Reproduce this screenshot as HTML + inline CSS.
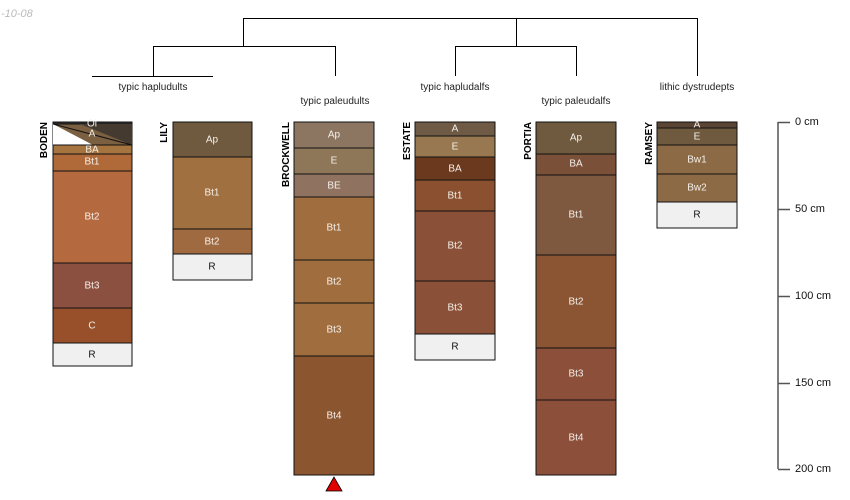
<!DOCTYPE html>
<html><head><meta charset="utf-8"><style>
html,body{margin:0;padding:0;background:#fff;}
svg{display:block;font-family:"Liberation Sans",sans-serif;}
.h{fill:#f4efe8;font-size:10px;text-anchor:middle;dominant-baseline:central;}
.k{fill:#111;font-size:10px;text-anchor:middle;dominant-baseline:central;}
.n{font-size:10px;font-weight:bold;fill:#000;}
.t{font-size:10px;fill:#222;text-anchor:middle;}
rect.l{stroke:#111;stroke-width:1;}
</style></head><body>
<svg width="850" height="500" viewBox="0 0 850 500" xmlns="http://www.w3.org/2000/svg">
<text x="1" y="17" font-size="11" font-style="italic" fill="#bbb">-10-08</text>
<g stroke="#000" stroke-width="1" fill="none">
<path d="M243.5 46V18.5H697.5V76"/>
<path d="M153.5 76V46.5H335.5V76"/>
<path d="M92 76.5H213"/>
<path d="M516.5 18.5V46.5"/>
<path d="M455.5 76V46.5H576.5V76"/>
</g>
<text class="t" x="153" y="90">typic hapludults</text>
<text class="t" x="335" y="104">typic paleudults</text>
<text class="t" x="455" y="90">typic hapludalfs</text>
<text class="t" x="576" y="104">typic paleudalfs</text>
<text class="t" x="697" y="90">lithic dystrudepts</text>

<g>
<rect class="l" x="53" y="122" width="79" height="2" fill="#333"/>
<rect class="l" x="53" y="124" width="79" height="21" fill="#7a6040"/>
<polygon points="53,124 53,145 93,145" fill="#fff"/>
<polygon points="80,124 132,124 132,145" fill="#443a30"/>
<line x1="53" y1="124" x2="132" y2="145" stroke="#111"/>
<rect class="l" x="53" y="145" width="79" height="9" fill="#a5743f"/>
<rect class="l" x="53" y="154" width="79" height="17" fill="#b06a3a"/>
<rect class="l" x="53" y="171" width="79" height="92" fill="#b5693f"/>
<rect class="l" x="53" y="263" width="79" height="45" fill="#8c5040"/>
<rect class="l" x="53" y="308" width="79" height="35" fill="#98502a"/>
<rect class="l" x="53" y="343" width="79" height="23" fill="#f0f0f0"/>
<text class="h" x="92" y="124">Oi</text><text class="h" x="92" y="134">A</text>
<text class="h" x="92" y="150">BA</text><text class="h" x="92" y="162">Bt1</text>
<text class="h" x="92" y="217">Bt2</text><text class="h" x="92" y="286">Bt3</text>
<text class="h" x="92" y="326">C</text><text class="k" x="92" y="355">R</text>
<text class="n" transform="translate(47 122) rotate(-90)" text-anchor="end">BODEN</text>
</g>
<g>
<rect class="l" x="173" y="122" width="79" height="35" fill="#6f5a40"/>
<rect class="l" x="173" y="157" width="79" height="72" fill="#a07040"/>
<rect class="l" x="173" y="229" width="79" height="25" fill="#a06a40"/>
<rect class="l" x="173" y="254" width="79" height="26" fill="#f0f0f0"/>
<text class="h" x="212" y="140">Ap</text><text class="h" x="212" y="193">Bt1</text>
<text class="h" x="212" y="242">Bt2</text><text class="k" x="212" y="267">R</text>
<text class="n" transform="translate(167 122) rotate(-90)" text-anchor="end">LILY</text>
</g>
<g>
<rect class="l" x="294" y="122" width="80" height="26" fill="#8c7662"/>
<rect class="l" x="294" y="148" width="80" height="26" fill="#8e7658"/>
<rect class="l" x="294" y="174" width="80" height="23" fill="#8f7360"/>
<rect class="l" x="294" y="197" width="80" height="63" fill="#a06e3e"/>
<rect class="l" x="294" y="260" width="80" height="43" fill="#a06e3e"/>
<rect class="l" x="294" y="303" width="80" height="53" fill="#a06e3e"/>
<rect class="l" x="294" y="356" width="80" height="119" fill="#8b5530"/>
<text class="h" x="334" y="135">Ap</text><text class="h" x="334" y="161">E</text>
<text class="h" x="334" y="186">BE</text><text class="h" x="334" y="228">Bt1</text>
<text class="h" x="334" y="282">Bt2</text><text class="h" x="334" y="330">Bt3</text>
<text class="h" x="334" y="416">Bt4</text>
<polygon points="334,477 326,491 342,491" fill="#e00000" stroke="#000" stroke-width="0.8"/>
<text class="n" transform="translate(289 122) rotate(-90)" text-anchor="end">BROCKWELL</text>
</g>
<g>
<rect class="l" x="415" y="122" width="80" height="14" fill="#6f5a45"/>
<rect class="l" x="415" y="136" width="80" height="21" fill="#987850"/>
<rect class="l" x="415" y="157" width="80" height="23" fill="#6b3a1e"/>
<rect class="l" x="415" y="180" width="80" height="31" fill="#8a5030"/>
<rect class="l" x="415" y="211" width="80" height="70" fill="#8b5038"/>
<rect class="l" x="415" y="281" width="80" height="53" fill="#8b5038"/>
<rect class="l" x="415" y="334" width="80" height="26" fill="#f0f0f0"/>
<text class="h" x="455" y="129">A</text><text class="h" x="455" y="147">E</text>
<text class="h" x="455" y="169">BA</text><text class="h" x="455" y="196">Bt1</text>
<text class="h" x="455" y="246">Bt2</text><text class="h" x="455" y="308">Bt3</text>
<text class="k" x="455" y="347">R</text>
<text class="n" transform="translate(410 122) rotate(-90)" text-anchor="end">ESTATE</text>
</g>
<g>
<rect class="l" x="536" y="122" width="80" height="32" fill="#6f5a40"/>
<rect class="l" x="536" y="154" width="80" height="21" fill="#7a5038"/>
<rect class="l" x="536" y="175" width="80" height="80" fill="#7f5840"/>
<rect class="l" x="536" y="255" width="80" height="93" fill="#8b5533"/>
<rect class="l" x="536" y="348" width="80" height="52" fill="#8b4f3a"/>
<rect class="l" x="536" y="400" width="80" height="75" fill="#8b4f3a"/>
<text class="h" x="576" y="138">Ap</text><text class="h" x="576" y="164">BA</text>
<text class="h" x="576" y="215">Bt1</text><text class="h" x="576" y="302">Bt2</text>
<text class="h" x="576" y="374">Bt3</text><text class="h" x="576" y="438">Bt4</text>
<text class="n" transform="translate(531 122) rotate(-90)" text-anchor="end">PORTIA</text>
</g>
<g>
<rect class="l" x="657" y="122" width="80" height="6" fill="#5a4535"/>
<rect class="l" x="657" y="128" width="80" height="17" fill="#6f5a40"/>
<rect class="l" x="657" y="145" width="80" height="29" fill="#8c6a45"/>
<rect class="l" x="657" y="174" width="80" height="28" fill="#8c6a45"/>
<rect class="l" x="657" y="202" width="80" height="26" fill="#f0f0f0"/>
<text class="h" x="697" y="125">A</text><text class="h" x="697" y="137">E</text>
<text class="h" x="697" y="160">Bw1</text><text class="h" x="697" y="188">Bw2</text>
<text class="k" x="697" y="215">R</text>
<text class="n" transform="translate(652 122) rotate(-90)" text-anchor="end">RAMSEY</text>
</g>
<g stroke="#555" stroke-width="1.5" fill="none">
<path d="M778 122V469"/>
<path d="M778 122.5H790M778 209.5H790M778 296.5H790M778 383.5H790M778 469.5H790"/>
</g>
<g font-size="11" fill="#111" dominant-baseline="central">
<text x="795" y="122">0 cm</text><text x="795" y="209">50 cm</text>
<text x="795" y="296">100 cm</text><text x="795" y="383">150 cm</text>
<text x="795" y="469">200 cm</text>
</g>
</svg>
</body></html>
